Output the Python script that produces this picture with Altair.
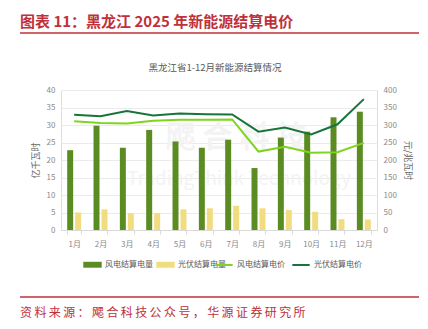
import altair as alt
import pandas as pd

months = ["1月", "2月", "3月", "4月", "5月", "6月", "7月", "8月", "9月", "10月", "11月", "12月"]
wind_volume = [22.8, 29.8, 23.5, 28.6, 25.3, 23.5, 25.8, 17.7, 26.4, 28.1, 32.2, 33.8]
solar_volume = [5.0, 5.9, 4.8, 4.8, 5.9, 6.2, 6.9, 6.2, 5.7, 5.2, 3.1, 3.0]
wind_price = [311, 306, 304, 312, 315, 315, 316, 224, 238, 221, 222, 249]
solar_price = [329, 325, 340, 327, 333, 331, 330, 281, 293, 273, 302, 374]

header = "图表 11：黑龙江 2025 年新能源结算电价"
source = "资料来源：飔合科技公众号，华源证券研究所"
subtitle = "黑龙江省1-12月新能源结算情况"

bar_names = ["风电结算电量", "光伏结算电量"]
line_names = ["风电结算电价", "光伏结算电价"]

FONT = "Noto Sans CJK SC"
RED = "#c0303a"
GRAY = "#8a8a8a"

bars_df = pd.DataFrame(
    [{"月份": m, "系列": bar_names[0], "值": v} for m, v in zip(months, wind_volume)]
    + [{"月份": m, "系列": bar_names[1], "值": v} for m, v in zip(months, solar_volume)]
)
lines_df = pd.DataFrame(
    [{"月份": m, "系列": line_names[0], "值": v} for m, v in zip(months, wind_price)]
    + [{"月份": m, "系列": line_names[1], "值": v} for m, v in zip(months, solar_price)]
)

xenc = alt.X(
    "月份:N", sort=months, title=None,
    scale=alt.Scale(paddingInner=0.47, paddingOuter=0.235),
    axis=alt.Axis(labelAngle=0, labelColor=GRAY, labelFontSize=8, labelFont=FONT,
                  domainColor="#d9d9d9", tickColor="#d9d9d9", tickBand="extent",
                  tickSize=4, labelPadding=6, grid=False),
)

bars = alt.Chart(bars_df).mark_bar().encode(
    x=xenc,
    xOffset=alt.XOffset("系列:N", sort=bar_names, scale=alt.Scale(paddingInner=0.25)),
    y=alt.Y("值:Q", title="亿千瓦时",
            scale=alt.Scale(domain=[0, 40]),
            axis=alt.Axis(values=[0, 5, 10, 15, 20, 25, 30, 35, 40], labelColor=GRAY,
                          labelFontSize=8, labelFont=FONT, titleFont=FONT, titleFontSize=9,
                          titleFontWeight="normal", titleColor="#666666", domain=False,
                          ticks=False, gridColor="#ebebeb", labelPadding=6, titlePadding=6)),
    fill=alt.Fill("系列:N", sort=bar_names,
                  scale=alt.Scale(domain=bar_names, range=["#5b8c22", "#f2dc80"]),
                  legend=alt.Legend(title=None, orient="none", legendX=22, legendY=165,
                                    direction="horizontal",
                                    symbolType="M-1,-0.32H1V0.32H-1Z", symbolSize=340,
                                    symbolStrokeWidth=0, labelFont=FONT, labelFontSize=8,
                                    labelColor="#595959", columnPadding=3, labelOffset=3)),
)

lines = alt.Chart(lines_df).mark_line(strokeWidth=2).encode(
    x=alt.X("月份:N", sort=months),
    y=alt.Y("值:Q", title="元/兆瓦时",
            scale=alt.Scale(domain=[0, 400]),
            axis=alt.Axis(orient="right", values=[0, 50, 100, 150, 200, 250, 300, 350, 400],
                          labelColor=GRAY, labelFontSize=8, labelFont=FONT, titleFont=FONT,
                          titleFontSize=9, titleFontWeight="normal", titleColor="#666666",
                          domain=False, ticks=False, grid=False, labelPadding=6, titlePadding=6)),
    stroke=alt.Stroke("系列:N", sort=line_names,
                      scale=alt.Scale(domain=line_names, range=["#7fd41f", "#17743a"]),
                      legend=alt.Legend(title=None, orient="none", legendX=153, legendY=165,
                                        direction="horizontal", symbolType="stroke",
                                        symbolSize=300, symbolStrokeWidth=2,
                                        labelFont=FONT, labelFontSize=8,
                                        labelColor="#595959", columnPadding=3, labelOffset=3)),
)

def text_layer(txt, x, y, size, color, weight="normal", align="left", font=FONT):
    return alt.Chart(pd.DataFrame({"t": [txt]})).mark_text(
        align=align, baseline="middle", fontSize=size, fontWeight=weight, color=color, font=font
    ).encode(text="t:N", x=alt.value(x), y=alt.value(y))

def rule_layer(y):
    return alt.Chart(pd.DataFrame({"t": [0]})).mark_rule(color=RED, strokeWidth=1.5).encode(
        x=alt.value(-41), x2=alt.value(358), y=alt.value(y)
    )

wm1 = text_layer("飔  合  科  技", 175, 48, 30, "#f3f3f3", weight="bold", align="center")
wm2 = text_layer("TradingThink Technology", 178, 89, 19, "#f3f3f3", align="center")

hdr = text_layer(header, -41, -68, 15, RED, weight="bold")
sub = text_layer(subtitle, 154, -22, 9.5, "#595959", align="center")
ftr = text_layer("\u2009".join(source), -41, 223, 12, RED)

chart = alt.layer(
    wm1, wm2, bars, lines, hdr, sub, rule_layer(-57), rule_layer(207), ftr
).resolve_scale(y="independent", fill="independent", stroke="independent").properties(
    width=316, height=140,
    padding={"left": 61, "top": 90, "right": 51, "bottom": 99},
    autosize=alt.AutoSizeParams(type="none"),
).configure_view(stroke=None).configure(background="white")

chart.save("out.html", embed_options={"renderer": "svg", "actions": False})
